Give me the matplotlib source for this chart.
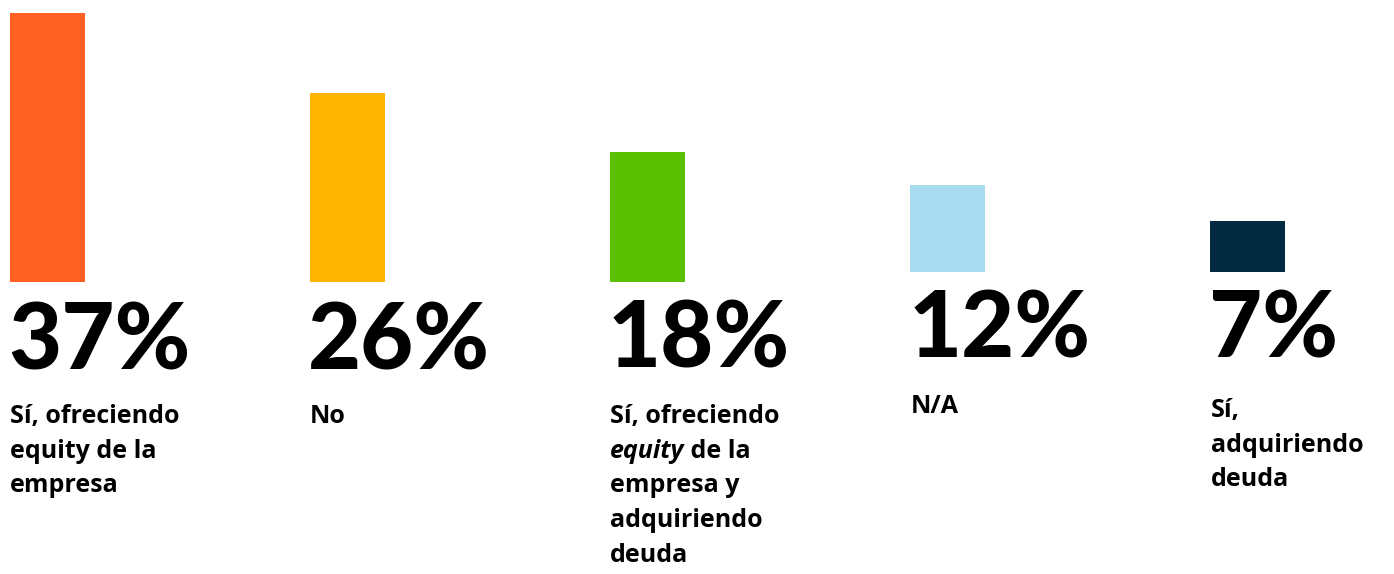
import matplotlib.pyplot as plt

# datos
categorias = ['Sí, ofreciendo\nequity de la\nempresa', 'No',
              'Sí, ofreciendo\nequity de la\nempresa y\nadquiriendo\ndeuda',
              'N/A', 'Sí,\nadquiriendo\ndeuda']
valores = [37, 26, 18, 12, 7]
colores = ['#FF6122', '#FFB500', '#5BC000', '#A8DBF0', '#022B42']

W, H = 1394, 574
# desplazamiento vertical de cada barra (en %), y posiciones de textos (px)
base_barra = [0, 0, -0.15, 1.4, 1.4]
base_num = [370, 370, 368, 358, 357]
base_txt = [423, 423, 423, 413, 417]
x_izq = [10, 310, 610, 911, 1211]
interlinea = 34.7

plt.rcParams['font.family'] = ['Lato', 'DejaVu Sans']
fuente_txt = ['Open Sans', 'DejaVu Sans']

fig = plt.figure(figsize=(W / 100, H / 100), dpi=100)
ax = fig.add_axes([0, (H - 282) / H, 1, (282 - 13) / H])
ax.bar(range(len(valores)), valores, width=0.25, bottom=base_barra, color=colores)
ax.set_xlim(-47.5 / 300, (W - 47.5) / 300)
ax.set_ylim(0, 37)
ax.axis('off')


def px(x, y):
    return x / W, 1 - y / H


for i, v in enumerate(valores):
    fig.text(*px(x_izq[i] - 2, base_num[i]), '%d%%' % v, fontsize=66,
             fontweight='black', va='baseline', ha='left', color='black')
    lineas = categorias[i].split('\n')
    for j, linea in enumerate(lineas):
        x, y = px(x_izq[i], base_txt[i] + j * interlinea)
        if i == 2 and linea.startswith('equity'):
            t = fig.text(x, y, 'equity', fontsize=18, fontweight='bold',
                         style='italic', va='baseline', ha='left',
                         family=fuente_txt)
            ax.annotate(' de la', xy=(1, 0), xycoords=t, fontsize=18,
                        fontweight='bold', va='bottom', ha='left',
                        family=fuente_txt)
        else:
            fig.text(x, y, linea, fontsize=18, fontweight='bold',
                     va='baseline', ha='left', family=fuente_txt)

fig.savefig('out.png', dpi=100)
